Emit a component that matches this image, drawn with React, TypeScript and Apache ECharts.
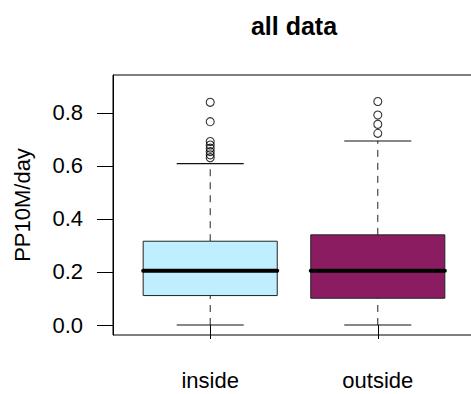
import React, { useEffect, useRef } from "react";
import * as echarts from "echarts";

const categories = ["inside", "outside"];
const whiskerLow = [0.0, 0.0];
const quartile1 = [0.111, 0.101];
const medians = [0.205, 0.205];
const quartile3 = [0.316, 0.34];
const whiskerHigh = [0.609, 0.694];
const outliersInside = [0.84, 0.767, 0.692, 0.679, 0.667, 0.654, 0.642, 0.631];
const outliersOutside = [0.843, 0.792, 0.757, 0.723];
const yTicks = [0, 0.2, 0.4, 0.6, 0.8];
const boxColors = ["#BFEFFF", "#8B1C62"];

const FONT = "Liberation Sans, Arial, Helvetica, sans-serif";

export default function App() {
  const ref = useRef<HTMLDivElement>(null);
  useEffect(() => {
    if (!ref.current) return;
    const chart = echarts.init(ref.current, undefined, { renderer: "svg" });
    const boxData = categories.map((_, i) => [
      i + 1,
      whiskerLow[i],
      quartile1[i],
      medians[i],
      quartile3[i],
      whiskerHigh[i],
    ]);
    const outlierData = [
      ...outliersInside.map((v) => [1, v]),
      ...outliersOutside.map((v) => [2, v]),
    ];
    const option: any = {
      animation: false,
      backgroundColor: "#fff",
      graphic: [
        {
          type: "text",
          x: 294,
          y: 26,
          style: {
            text: "all data",
            align: "center",
            verticalAlign: "middle",
            font: `bold 25px ${FONT}`,
            fill: "#000",
          },
        },
      ],
      grid: {
        left: 113,
        top: 75,
        width: 362,
        height: 260,
        show: true,
        borderColor: "#000",
        borderWidth: 1,
        backgroundColor: "transparent",
        outerBoundsMode: "none",
        containLabel: false,
      },
      xAxis: {
        type: "value",
        min: 0.42,
        max: 2.58,
        splitLine: { show: false },
        axisLine: { show: false },
        axisTick: {
          show: true,
          customValues: [1, 2],
          length: 14,
          lineStyle: { color: "#000", width: 1 },
        },
        axisLabel: {
          show: true,
          customValues: [1, 2],
          margin: 34,
          formatter: (v: number) => categories[Math.round(v) - 1] ?? "",
          fontFamily: FONT,
          fontSize: 22,
          color: "#000",
        },
      },
      yAxis: {
        type: "value",
        min: -0.0377,
        max: 0.943,
        name: "PP10M/day",
        nameLocation: "middle",
        nameGap: 80,
        nameTextStyle: { fontFamily: FONT, fontSize: 22, color: "#000" },
        splitLine: { show: false },
        axisLine: { show: true, lineStyle: { color: "#000", width: 1 } },
        axisTick: {
          show: true,
          customValues: yTicks,
          length: 16,
          lineStyle: { color: "#000", width: 1 },
        },
        axisLabel: {
          show: true,
          customValues: yTicks,
          margin: 30,
          formatter: (v: number) => v.toFixed(1),
          fontFamily: FONT,
          fontSize: 22,
          color: "#000",
        },
      },
      series: [
        {
          type: "custom",
          data: boxData,
          encode: { x: 0, y: [1, 2, 3, 4, 5] },
          renderItem: (params: any, api: any) => {
            const x = api.value(0);
            const lo = api.value(1);
            const q1 = api.value(2);
            const med = api.value(3);
            const q3 = api.value(4);
            const hi = api.value(5);
            const c = (xx: number, yy: number) => api.coord([xx, yy]);
            const pLo = c(x, lo);
            const pQ1 = c(x, q1);
            const pQ3 = c(x, q3);
            const pHi = c(x, hi);
            const capL = c(x - 0.2, lo);
            const capR = c(x + 0.2, lo);
            const capHL = c(x - 0.2, hi);
            const capHR = c(x + 0.2, hi);
            const boxTL = c(x - 0.4, q3);
            const boxBR = c(x + 0.4, q1);
            const medL = c(x - 0.4, med);
            const medR = c(x + 0.4, med);
            const dash = { stroke: "#222", lineWidth: 1, lineDash: [7, 6] };
            const solid = { stroke: "#111", lineWidth: 1.2 };
            return {
              type: "group",
              children: [
                {
                  type: "line",
                  shape: { x1: pLo[0], y1: pLo[1], x2: pQ1[0], y2: pQ1[1] },
                  style: dash,
                },
                {
                  type: "line",
                  shape: { x1: pQ3[0], y1: pQ3[1], x2: pHi[0], y2: pHi[1] },
                  style: dash,
                },
                {
                  type: "line",
                  shape: { x1: capL[0], y1: capL[1], x2: capR[0], y2: capR[1] },
                  style: solid,
                },
                {
                  type: "line",
                  shape: { x1: capHL[0], y1: capHL[1], x2: capHR[0], y2: capHR[1] },
                  style: solid,
                },
                {
                  type: "rect",
                  shape: {
                    x: boxTL[0],
                    y: boxTL[1],
                    width: boxBR[0] - boxTL[0],
                    height: boxBR[1] - boxTL[1],
                  },
                  style: {
                    fill: boxColors[params.dataIndex],
                    stroke: "#222",
                    lineWidth: 1,
                  },
                },
                {
                  type: "line",
                  shape: { x1: medL[0], y1: medL[1], x2: medR[0], y2: medR[1] },
                  style: { stroke: "#000", lineWidth: 4, lineCap: "round" },
                },
              ],
            };
          },
        },
        {
          type: "scatter",
          data: outlierData,
          symbol: "circle",
          symbolSize: 8,
          itemStyle: {
            color: "rgba(0,0,0,0)",
            borderColor: "#000",
            borderWidth: 1.1,
          },
        },
      ],
    };
    chart.setOption(option);
    return () => chart.dispose();
  }, []);
  return (
    <div
      ref={ref}
      style={{ position: "absolute", left: 0, top: 0, width: 471, height: 394 }}
    />
  );
}
